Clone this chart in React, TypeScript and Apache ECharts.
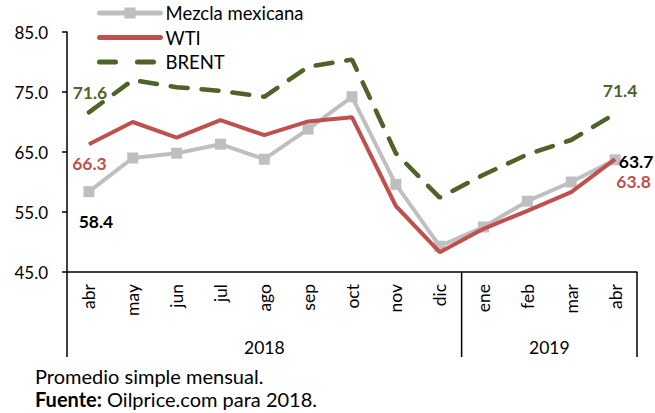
import React, { useEffect, useRef } from "react";
import * as echarts from "echarts";

const months = ["abr", "may", "jun", "jul", "ago", "sep", "oct", "nov", "dic", "ene", "feb", "mar", "abr"];
const years = ["2018", "2019"];
const yearSpans = [9, 4];
const mezcla = [58.4, 64.0, 64.8, 66.3, 63.8, 68.8, 74.2, 59.6, 49.3, 52.5, 56.8, 60.0, 63.7];
const wti = [66.3, 70.0, 67.4, 70.3, 67.8, 70.1, 70.8, 56.0, 48.3, 52.2, 55.2, 58.3, 63.8];
const brent = [71.6, 77.0, 75.8, 75.2, 74.2, 79.2, 80.4, 64.8, 57.4, 61.2, 64.6, 67.0, 71.4];
const notes = ["Promedio simple mensual.", "Oilprice.com para 2018."];

const FONT = "Lato, 'Liberation Sans', sans-serif";
const GRAY = "#BFBFBF";
const RED = "#C0504D";
const GREEN = "#4F6228";

const lblBase = { fontFamily: FONT, fontSize: 17.5, fontWeight: "bold" as const, position: "inside" as const };

function endPoints(values: number[], color: string, offFirst: number[], offLast: number[]) {
  const last = values.length - 1;
  return {
    symbol: "circle",
    symbolSize: 0,
    silent: true,
    data: [
      { coord: [0, values[0]], value: values[0], label: { ...lblBase, color, offset: offFirst } },
      { coord: [last, values[last]], value: values[last], label: { ...lblBase, color, offset: offLast } },
    ],
  };
}

export default function App() {
  const ref = useRef<HTMLDivElement>(null);
  useEffect(() => {
    if (!ref.current) return;
    const chart = echarts.init(ref.current, undefined, { renderer: "svg" });
    chart.setOption({
      animation: false,
      textStyle: { fontFamily: FONT },
      grid: { left: 67, right: 18, top: 32, bottom: 141 },
      legend: {
        left: 97,
        top: 3,
        padding: 0,
        orient: "vertical",
        itemWidth: 61,
        itemHeight: 14,
        itemGap: 4.5,
        textStyle: { fontFamily: FONT, fontSize: 18.5, lineHeight: 20, color: "#000" },
        data: [
          { name: "Mezcla mexicana", lineStyle: { width: 5, cap: "round" } },
          { name: "WTI", itemStyle: { opacity: 0 }, lineStyle: { width: 5, cap: "round" } },
          { name: "BRENT", itemStyle: { opacity: 0 }, lineStyle: { width: 5, type: [16, 22], cap: "round" } },
        ],
      },
      xAxis: {
        type: "category",
        data: months,
        boundaryGap: true,
        axisLine: { lineStyle: { color: "#000", width: 1.5 } },
        axisTick: { show: false },
        axisLabel: { rotate: 90, margin: 12, fontFamily: FONT, fontSize: 17.5, color: "#000", interval: 0 },
      },
      yAxis: {
        type: "value",
        min: 45,
        max: 85,
        interval: 10,
        axisLine: { show: true, lineStyle: { color: "#000", width: 1.5 } },
        axisTick: { show: true, length: 5, lineStyle: { color: "#000", width: 1.5 } },
        splitLine: { show: false },
        axisLabel: {
          margin: 19,
          fontFamily: FONT,
          fontSize: 17,
          color: "#000",
          formatter: (v: number) => v.toFixed(1),
        },
      },
      series: [
        {
          name: "Mezcla mexicana",
          type: "line",
          data: mezcla,
          symbol: "rect",
          symbolSize: 11,
          lineStyle: { color: GRAY, width: 4 },
          itemStyle: { color: GRAY },
          markPoint: endPoints(mezcla, "#000", [7, 29.5], [21, 2]),
          z: 2,
        },
        {
          name: "WTI",
          type: "line",
          data: wti,
          symbol: "none",
          lineStyle: { color: RED, width: 4 },
          itemStyle: { color: RED },
          markPoint: endPoints(wti, RED, [0.5, 19], [18.5, 22]),
          z: 3,
        },
        {
          name: "BRENT",
          type: "line",
          data: brent,
          symbol: "none",
          lineStyle: { color: GREEN, width: 4.5, type: [17, 14], cap: "round" },
          itemStyle: { color: GREEN },
          markPoint: endPoints(brent, GREEN, [1, -20], [5, -23.5]),
          z: 1,
        },
      ],
    });

    const x0 = chart.convertToPixel({ xAxisIndex: 0 }, 0) as number;
    const x1 = chart.convertToPixel({ xAxisIndex: 0 }, 1) as number;
    const band = x1 - x0;
    const left = x0 - band / 2;
    const yBase = chart.convertToPixel({ yAxisIndex: 0 }, 45) as number;
    const yBottom = yBase + 85;
    const elements: any[] = [];
    let start = 0;
    const bounds: number[] = [left];
    years.forEach((yr, k) => {
      const a = left + start * band;
      const b = left + (start + yearSpans[k]) * band;
      bounds.push(b);
      elements.push({
        type: "text",
        x: (a + b) / 2,
        y: yBase + 75.5,
        style: { text: yr, font: `17.5px ${FONT}`, fill: "#000", align: "center", verticalAlign: "middle" },
      });
      start += yearSpans[k];
    });
    bounds.forEach((bx) => {
      elements.push({
        type: "line",
        shape: { x1: bx, y1: yBase, x2: bx, y2: yBottom },
        style: { stroke: "#000", lineWidth: 1.5 },
      });
    });
    elements.push({
      type: "text",
      x: 35,
      y: 376,
      style: { text: notes[0], font: `20px ${FONT}`, fill: "#000", verticalAlign: "middle" },
    });
    elements.push({
      type: "text",
      x: 35,
      y: 399,
      style: {
        text: "{b|Fuente:} " + notes[1],
        font: `20px ${FONT}`,
        fill: "#000",
        verticalAlign: "middle",
        rich: { b: { fontWeight: "bold", fontSize: 20, fontFamily: FONT } },
      },
    });
    chart.setOption({ graphic: elements });
    return () => chart.dispose();
  }, []);
  return <div ref={ref} style={{ width: 655, height: 413, position: "absolute", left: 0, top: 0 }} />;
}
